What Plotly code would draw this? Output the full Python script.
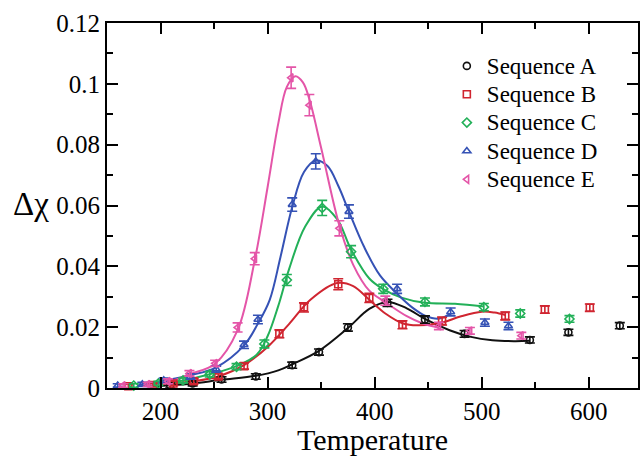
import plotly.graph_objects as go

# Measured points (temperature, delta-chi, error)
a_T = [209, 230, 257, 289, 323, 348, 375, 412, 447, 484, 545, 581, 629]
a_v = [0.0008, 0.0015, 0.0028, 0.0038, 0.0075, 0.0118, 0.0199, 0.028, 0.0225, 0.0178, 0.0158, 0.0183, 0.0205]
a_e = [0.0008, 0.0008, 0.0009, 0.0009, 0.001, 0.001, 0.0012, 0.0012, 0.0012, 0.0011, 0.001, 0.001, 0.001]

b_T = [170, 193, 212, 231, 254, 278, 311, 334, 366, 395, 426, 463, 522, 559, 601]
b_v = [0.0006, 0.001, 0.0015, 0.0022, 0.0038, 0.0072, 0.0178, 0.0265, 0.0341, 0.0296, 0.0208, 0.022, 0.0237, 0.0258, 0.0264]
b_e = [0.0006, 0.0006, 0.0007, 0.0008, 0.0008, 0.001, 0.0013, 0.0015, 0.0018, 0.0015, 0.0013, 0.0013, 0.0013, 0.0012, 0.0012]

c_T = [175, 198, 221, 246, 271, 297, 318, 351, 378, 408, 447, 502, 536, 582]
c_v = [0.0008, 0.0015, 0.0025, 0.0045, 0.007, 0.0145, 0.0355, 0.0592, 0.0448, 0.0326, 0.0283, 0.0266, 0.0245, 0.0227]
c_e = [0.0006, 0.0007, 0.0008, 0.0009, 0.001, 0.0013, 0.0018, 0.0025, 0.002, 0.0015, 0.0013, 0.0012, 0.0012, 0.0011]

d_T = [160, 183, 203, 228, 252, 278, 291, 323, 345, 376, 421, 471, 503, 525]
d_v = [0.0008, 0.0012, 0.0025, 0.0038, 0.0062, 0.0142, 0.0225, 0.0603, 0.0745, 0.058, 0.0326, 0.025, 0.0215, 0.0204]
d_e = [0.0006, 0.0007, 0.0008, 0.0009, 0.001, 0.0012, 0.0014, 0.0022, 0.0025, 0.0022, 0.0015, 0.0013, 0.0012, 0.0012]

e_T = [165, 188, 207, 227, 251, 272, 288, 322, 339, 367, 410, 460, 489, 537]
e_v = [0.0008, 0.0012, 0.0022, 0.0048, 0.0081, 0.0199, 0.0425, 0.102, 0.093, 0.0525, 0.0287, 0.0204, 0.0188, 0.0172]
e_e = [0.0006, 0.0007, 0.0008, 0.0009, 0.001, 0.0015, 0.002, 0.0035, 0.0035, 0.0025, 0.0015, 0.0012, 0.0011, 0.0011]

# Smooth fitted curves
a_fit_T = [190, 210, 230, 257, 289, 310, 323, 348, 375, 395, 412, 430, 447, 470, 490, 510, 530, 545]
a_fit_v = [0.0005, 0.0009, 0.0015, 0.0027, 0.004, 0.0058, 0.0078, 0.0122, 0.0197, 0.026, 0.0283, 0.0262, 0.0227, 0.019, 0.0168, 0.0157, 0.0154, 0.0155]

b_fit_T = [200, 230, 254, 278, 300, 320, 340, 365, 380, 395, 410, 426, 440, 463, 480, 500, 512, 522]
b_fit_v = [0.0012, 0.0022, 0.0038, 0.0075, 0.0135, 0.021, 0.029, 0.0345, 0.0335, 0.029, 0.0245, 0.0213, 0.0206, 0.0215, 0.0235, 0.0251, 0.0248, 0.024]

c_fit_T = [190, 221, 246, 271, 290, 300, 310, 320, 335, 351, 365, 378, 395, 408, 425, 447, 475, 502]
c_fit_v = [0.001, 0.0025, 0.0045, 0.0072, 0.011, 0.017, 0.027, 0.039, 0.053, 0.0597, 0.0555, 0.0455, 0.036, 0.0325, 0.0297, 0.028, 0.0277, 0.0268]

d_fit_T = [180, 203, 228, 252, 278, 291, 302, 312, 323, 334, 345, 356, 366, 376, 390, 405, 421, 435, 447, 460, 471]
d_fit_v = [0.001, 0.0024, 0.0042, 0.0068, 0.014, 0.0212, 0.029, 0.043, 0.0595, 0.071, 0.0748, 0.073, 0.0665, 0.058, 0.0465, 0.037, 0.031, 0.0265, 0.0238, 0.0228, 0.0245]

e_fit_T = [185, 207, 227, 251, 272, 288, 300, 310, 318, 326, 333, 339, 350, 367, 380, 395, 410, 430, 445, 460]
e_fit_v = [0.001, 0.002, 0.0045, 0.008, 0.019, 0.042, 0.066, 0.087, 0.099, 0.1025, 0.1005, 0.095, 0.079, 0.0535, 0.0405, 0.032, 0.0282, 0.0236, 0.0212, 0.0198]

names = ["Sequence A", "Sequence B", "Sequence C", "Sequence D", "Sequence E"]
colors = ["#111111", "#d02530", "#22b058", "#3552b5", "#e455a8"]
symbols = ["circle-open", "square-open", "diamond-open", "triangle-up-open", "triangle-left-open"]

x_ticks = [200, 300, 400, 500, 600]
y_ticks = [0, 0.02, 0.04, 0.06, 0.08, 0.1, 0.12]
y_tick_text = ["0", "0.02", "0.04", "0.06", "0.08", "0.1", "0.12"]

points = [(a_T, a_v, a_e), (b_T, b_v, b_e), (c_T, c_v, c_e), (d_T, d_v, d_e), (e_T, e_v, e_e)]
fits = [(a_fit_T, a_fit_v), (b_fit_T, b_fit_v), (c_fit_T, c_fit_v), (d_fit_T, d_fit_v), (e_fit_T, e_fit_v)]

serif = "Liberation Serif, Times New Roman, serif"

fig = go.Figure()

for (ft, fv), col in zip(fits, colors):
    fig.add_trace(go.Scatter(
        x=ft, y=fv, mode="lines", line=dict(color=col, width=2, shape="spline", smoothing=1.0),
        showlegend=False, hoverinfo="skip"))

for (t, v, e), name, col, sym in zip(points, names, colors, symbols):
    fig.add_trace(go.Scatter(
        x=t, y=v, mode="markers",
        name=f"<span style='font-size:23px'>{name}</span>",
        marker=dict(symbol=sym, size=7, color=col, line=dict(color=col, width=1.6)),
        error_y=dict(type="data", array=e, visible=True, color=col, thickness=1.6, width=5),
        cliponaxis=False))

axis_common = dict(
    showline=True, linecolor="black", linewidth=2, mirror="allticks",
    ticks="inside", ticklen=11, tickwidth=2, tickcolor="black",
    showgrid=False, zeroline=False,
    tickfont=dict(family=serif, size=25, color="black"),
)

fig.update_xaxes(
    range=[150, 646], tickvals=x_ticks,
    minor=dict(ticks="inside", ticklen=6, tickwidth=2, tickcolor="black", dtick=50, tick0=150, showgrid=False),
    title=dict(text="Temperature", font=dict(family=serif, size=30, color="black"), standoff=6),
    **axis_common)
fig.update_yaxes(
    range=[0, 0.12], tickvals=y_ticks, ticktext=y_tick_text,
    minor=dict(ticks="inside", ticklen=6, tickwidth=2, tickcolor="black", dtick=0.01, tick0=0, showgrid=False),
    **axis_common)

fig.add_annotation(
    text="Δχ", xref="paper", yref="paper", x=-0.143, y=0.505,
    xanchor="center", yanchor="middle",
    showarrow=False, font=dict(family=serif, size=33, color="black"))

fig.update_layout(
    width=644, height=456,
    margin=dict(l=107, r=4, t=23, b=61),
    paper_bgcolor="white", plot_bgcolor="white",
    showlegend=True,
    legend=dict(x=0.64, y=0.935, xanchor="left", yanchor="top",
                bgcolor="rgba(0,0,0,0)", borderwidth=0,
                font=dict(family=serif, size=19.5, color="black"),
                tracegroupgap=0, itemsizing="trace"),
)

fig.write_html("out.html")
